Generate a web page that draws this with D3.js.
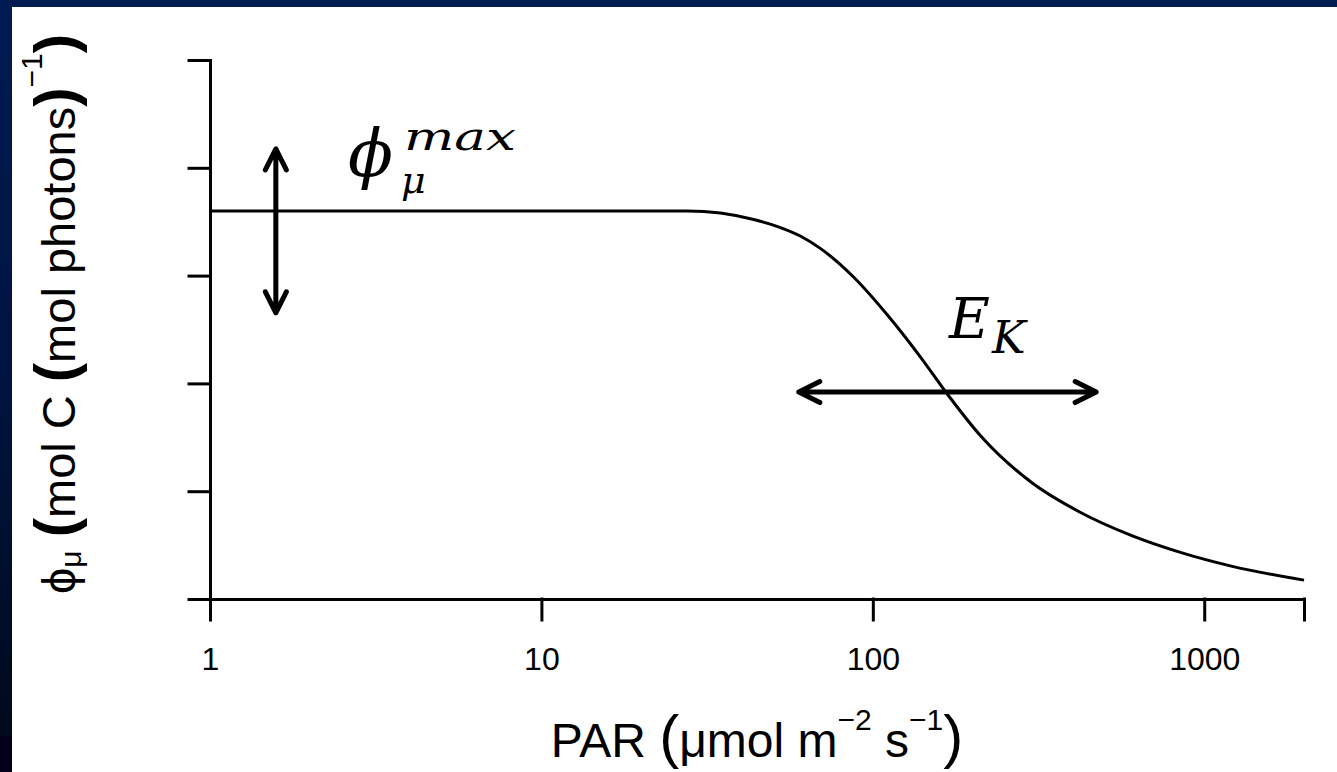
<!DOCTYPE html>
<html>
<head>
<meta charset="utf-8">
<script src="https://cdn.jsdelivr.net/npm/d3@7"></script>
<style>
  body { margin: 0; background: #fff; }
  svg { display: block; }
</style>
</head>
<body>
<div id="chart"></div>
<script>
// values (PAR in umol m-2 s-1, phi in mol C / mol photons)
var parValues = [1, 10, 27.6, 34.7, 43.7, 51.6, 60.6, 69.6, 87.6, 111, 140, 166, 212, 300, 425, 602, 852, 1207, 2000];
var phiValues = [0.072, 0.072, 0.072, 0.0716, 0.0704, 0.0691, 0.0673, 0.0650, 0.0597, 0.0526, 0.0447, 0.0384, 0.0302, 0.0217, 0.0160, 0.0118, 0.0086, 0.0061, 0.0035];

var xTicks = [1, 10, 100, 1000, 2000];
var xTickLabels = ["1", "10", "100", "1000", ""];
var yTicks = [0, 0.02, 0.04, 0.06, 0.08, 0.1];

// annotation arrows: [x, y] ends in data units
var phiMaxArrow = [[1.58, 0.0835], [1.58, 0.0531]];
var ekArrow = [[59.8, 0.0384], [472, 0.0384]];

var width = 1337, height = 772;

var svg = d3.select("#chart").append("svg")
  .attr("width", width)
  .attr("height", height);

// dark slide frame on top and left
var defs = svg.append("defs");
var grad = defs.append("linearGradient")
  .attr("id", "band")
  .attr("x1", 0).attr("y1", 0).attr("x2", 0).attr("y2", 1);
grad.append("stop").attr("offset", "0%").attr("stop-color", "#001a52");
grad.append("stop").attr("offset", "50%").attr("stop-color", "#001441");
grad.append("stop").attr("offset", "100%").attr("stop-color", "#000a1c");

svg.append("rect").attr("x", 0).attr("y", 0).attr("width", width).attr("height", 7).attr("fill", "#001a52");
svg.append("rect").attr("x", 0).attr("y", 0).attr("width", 12).attr("height", 736).attr("fill", "url(#band)");
svg.append("rect").attr("x", 0).attr("y", 736).attr("width", 12).attr("height", 36).attr("fill", "#04001a");

var x = d3.scaleLog().domain([1, 2000]).range([210, 1304]);
var y = d3.scaleLinear().domain([0, 0.1]).range([599, 60]);

var xAxis = svg.append("g")
  .attr("transform", "translate(0," + y(0) + ")")
  .call(d3.axisBottom(x)
    .tickValues(xTicks)
    .tickFormat(function(d, i) { return xTickLabels[i]; })
    .tickSize(21)
    .tickSizeOuter(0)
    .tickPadding(27));

var yAxis = svg.append("g")
  .attr("transform", "translate(" + x(1) + ",0)")
  .call(d3.axisLeft(y)
    .tickValues(yTicks)
    .tickFormat("")
    .tickSize(21)
    .tickSizeOuter(0));

svg.selectAll(".domain, .tick line")
  .attr("stroke", "#000")
  .attr("stroke-width", 3)
  .attr("stroke-linecap", "square");

xAxis.selectAll("text")
  .attr("fill", "#000")
  .style("font-family", "'Liberation Sans', Arial, sans-serif")
  .style("font-size", "32px");

var line = d3.line()
  .x(function(d) { return x(d[0]); })
  .y(function(d) { return y(d[1]); })
  .curve(d3.curveMonotoneX);

svg.append("path")
  .datum(d3.zip(parValues, phiValues))
  .attr("fill", "none")
  .attr("stroke", "#000")
  .attr("stroke-width", 3)
  .attr("d", line);

function arrowPath(a) {
  var x1 = x(a[0][0]), y1 = y(a[0][1]), x2 = x(a[1][0]), y2 = y(a[1][1]);
  var ang = Math.atan2(y2 - y1, x2 - x1);
  var len = 21, half = 10.5;
  function head(px, py, dir) {
    var bx = px - Math.cos(dir) * len, by = py - Math.sin(dir) * len;
    var nx = -Math.sin(dir) * half, ny = Math.cos(dir) * half;
    return "M" + (bx + nx) + "," + (by + ny) + "L" + px + "," + py + "L" + (bx - nx) + "," + (by - ny);
  }
  return "M" + x1 + "," + y1 + "L" + x2 + "," + y2 +
    head(x2, y2, ang) + head(x1, y1, ang + Math.PI);
}

svg.selectAll(".arrow")
  .data([phiMaxArrow, ekArrow])
  .enter().append("path")
  .attr("class", "arrow")
  .attr("fill", "none")
  .attr("stroke", "#000")
  .attr("stroke-width", 5)
  .attr("stroke-linecap", "round")
  .attr("stroke-linejoin", "round")
  .attr("d", arrowPath);

// math labels
var mathFont = "'DejaVu Serif', serif";

var phiLabel = svg.append("text")
  .attr("x", 348).attr("y", 176)
  .style("font-family", mathFont)
  .style("font-style", "italic")
  .style("font-size", "66px")
  .attr("fill", "#000");
phiLabel.append("tspan").text("ϕ");
phiLabel.append("tspan").attr("x", 401).attr("y", 193).style("font-size", "38px").text("μ");
phiLabel.append("tspan").attr("x", 404).attr("y", 150).style("font-size", "39px")
  .attr("textLength", 112).attr("lengthAdjust", "spacingAndGlyphs").text("max");

var ekLabel = svg.append("text")
  .attr("x", 949).attr("y", 338)
  .style("font-family", mathFont)
  .style("font-style", "italic")
  .style("font-size", "56px")
  .attr("fill", "#000");
ekLabel.append("tspan").text("E");
ekLabel.append("tspan").attr("x", 992).attr("y", 353).style("font-size", "45px").text("K");

// axis titles
var sans = "'Liberation Sans', Arial, sans-serif";

var xTitle = svg.append("text")
  .attr("x", (x.range()[0] + x.range()[1]) / 2)
  .attr("y", 757)
  .attr("text-anchor", "middle")
  .style("font-family", sans)
  .style("font-size", "48px")
  .attr("fill", "#000");
xTitle.append("tspan").text("PAR ");
xTitle.append("tspan").style("font-size", "60px").text("(");
xTitle.append("tspan").text("μmol m");
xTitle.append("tspan").attr("dy", -27).style("font-size", "30px").text("−2");
xTitle.append("tspan").attr("dy", 27).text(" s");
xTitle.append("tspan").attr("dy", -27).style("font-size", "30px").text("−1");
xTitle.append("tspan").attr("dy", 27).style("font-size", "60px").text(")");

var yTitle = svg.append("text")
  .attr("transform", "translate(75,314) rotate(-90)")
  .attr("text-anchor", "middle")
  .style("font-family", sans)
  .style("font-size", "47px")
  .attr("fill", "#000");
yTitle.append("tspan").text("ϕ");
yTitle.append("tspan").attr("dy", 6).style("font-size", "30px").text("μ");
yTitle.append("tspan").attr("dy", -6).text(" ");
yTitle.append("tspan").style("font-size", "58px").style("font-weight", "bold").text("(");
yTitle.append("tspan").text("mol C ");
yTitle.append("tspan").style("font-size", "58px").style("font-weight", "bold").text("(");
yTitle.append("tspan").text("mol photons");
yTitle.append("tspan").style("font-size", "58px").style("font-weight", "bold").text(")");
yTitle.append("tspan").attr("dy", -33).style("font-size", "30px").text("−1");
yTitle.append("tspan").attr("dy", 33).style("font-size", "58px").style("font-weight", "bold").text(")");
</script>
</body>
</html>
